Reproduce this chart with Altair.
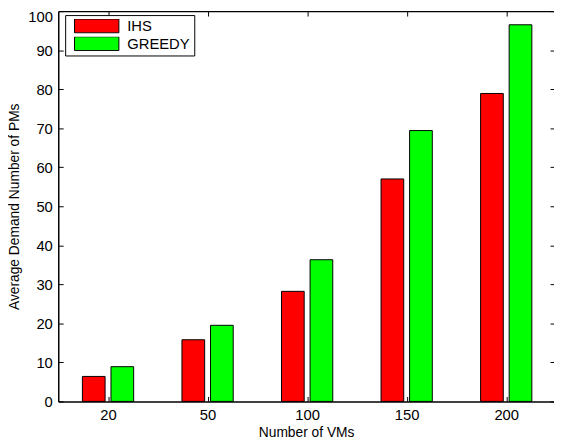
import json
import altair as alt
import pandas as pd

# ---- data ----
vms = ["20", "50", "100", "150", "200"]
series = ["IHS", "GREEDY"]
ihs = [6.4, 15.8, 28.2, 57.0, 78.9]
greedy = [8.9, 19.5, 36.3, 69.4, 96.5]
y_ticks = [0, 10, 20, 30, 40, 50, 60, 70, 80, 90, 100]
colors = ["#ff0000", "#00ff00"]

rows = []
for i, v in enumerate(vms):
    rows.append({"idx": i + 1, "vms": v, "series": "IHS", "value": ihs[i]})
    rows.append({"idx": i + 1, "vms": v, "series": "GREEDY", "value": greedy[i]})
df = pd.DataFrame(rows)

FONT = "Liberation Sans"
label_expr = json.dumps(vms) + "[datum.value - 1]"

x_scale = alt.Scale(domain=[0.5, 5.48], nice=False, zero=False)
y_scale = alt.Scale(domain=[0, 100], nice=False)

base = alt.Chart(df).transform_calculate(
    off="datum.series == 'IHS' ? -0.1435 : 0.1435"
).transform_calculate(
    x0="datum.idx + datum.off - 0.114",
    x1="datum.idx + datum.off + 0.114",
)

bars = base.mark_bar(stroke="black", strokeWidth=1).encode(
    x=alt.X("x0:Q", scale=x_scale, title="Number of VMs",
            axis=alt.Axis(values=[1, 2, 3, 4, 5], labelExpr=label_expr, grid=False,
                          orient="bottom", tickSize={"expr": "-5"}, labelPadding=11,
                          tickColor="black", domainColor="black", domainWidth=1.5,
                          labelFont=FONT, labelFontSize=15, labelColor="black",
                          titleFont=FONT, titleFontSize=14, titleFontWeight="normal",
                          titleColor="black", titlePadding=4)),
    x2="x1:Q",
    y=alt.Y("value:Q", scale=y_scale, title="Average Demand Number of PMs",
            axis=alt.Axis(values=y_ticks, grid=False, orient="left",
                          tickSize={"expr": "-5"}, labelPadding=11,
                          labelOffset={"condition": {"test": "datum.value === 100", "value": 6},
                                       "value": 0},
                          tickColor="black", domainColor="black", domainWidth=1.5,
                          labelFont=FONT, labelFontSize=15, labelColor="black",
                          titleFont=FONT, titleFontSize=14, titleFontWeight="normal",
                          titleColor="black", titlePadding=6)),
    y2=alt.datum(0),
    color=alt.Color("series:N",
                    scale=alt.Scale(domain=series, range=colors),
                    legend=alt.Legend(title=None, orient="none", legendX=7, legendY=4,
                                      symbolType="M-1,-0.311H1V0.311H-1Z",
                                      symbolSize=2025, symbolStrokeColor="black",
                                      symbolStrokeWidth=1, symbolOpacity=1,
                                      labelFont=FONT, labelFontSize=15, labelColor="black",
                                      padding=4, fillColor="white", strokeColor="black",
                                      clipHeight=14, rowPadding=3,
                                      symbolOffset=5, labelOffset=8)),
)

frame = base.mark_bar(opacity=0).encode(
    x=alt.X("x0:Q", scale=x_scale, title=None,
            axis=alt.Axis(values=[1, 2, 3, 4, 5], labels=False, grid=False, orient="top",
                          tickSize={"expr": "-5"}, tickColor="black",
                          domainColor="black", domainWidth=1.5)),
    x2="x1:Q",
    y=alt.Y("value:Q", scale=y_scale, title=None,
            axis=alt.Axis(values=y_ticks, labels=False, grid=False, orient="right",
                          domain=False, tickSize={"expr": "-4"}, tickColor="black")),
    y2=alt.datum(0),
)

chart = alt.layer(bars, frame).resolve_axis(
    x="independent", y="independent"
).properties(
    width=503, height=396,
    autosize="none",
    padding={"left": 51, "top": 0, "right": 0, "bottom": 38},
    background="white",
).configure_view(stroke=None)

chart.save("out.html", embed_options={"renderer": "svg", "actions": False})
